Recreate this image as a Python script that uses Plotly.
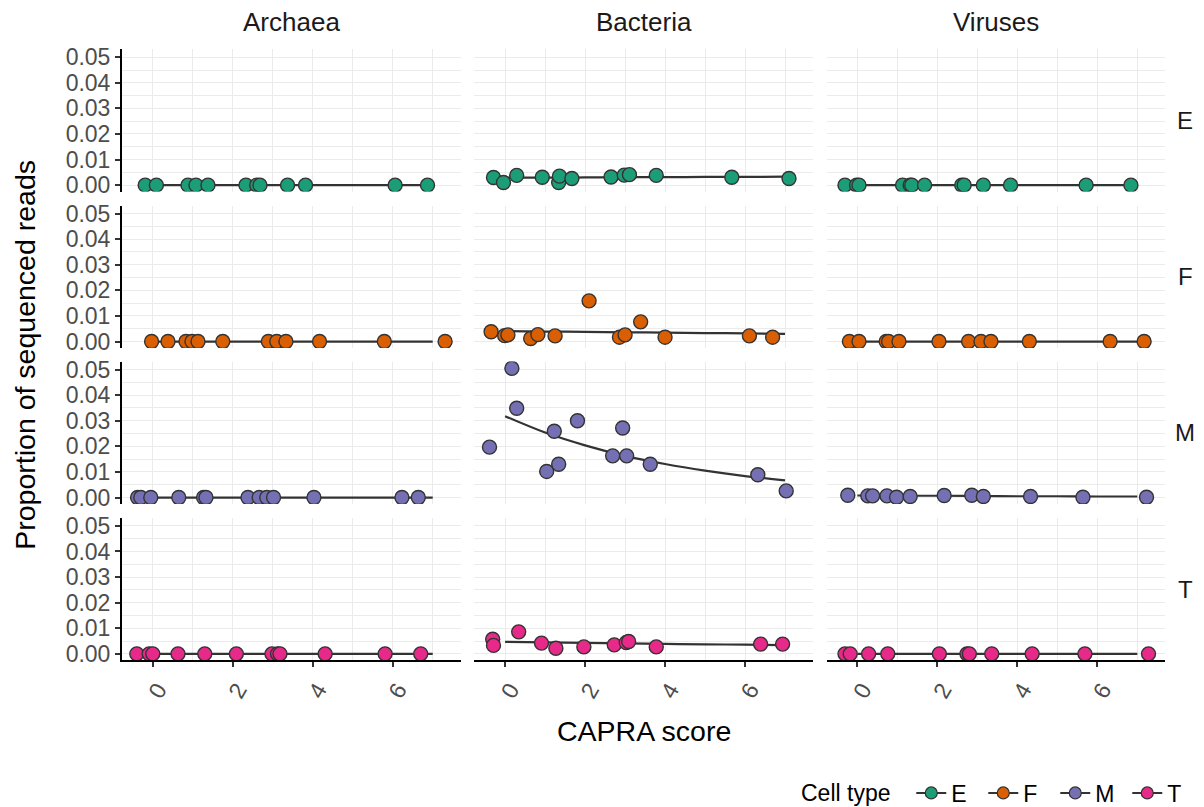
import plotly.graph_objects as go

# ---------------- data ----------------
kingdoms = ["Archaea", "Bacteria", "Viruses"]
cell_types = ["E", "F", "M", "T"]
type_colors = ["#1B9E77", "#D95F02", "#7570B3", "#E7298A"]
x_ticks = [0, 2, 4, 6]
y_ticks = [0.00, 0.01, 0.02, 0.03, 0.04, 0.05]

# jittered sample points (CAPRA score, proportion of reads)
archaea_E_x = [-0.19, 0.09, 0.88, 1.08, 1.38, 2.33, 2.60, 2.68, 3.37, 3.82, 6.06, 6.87]
archaea_E_y = [0, 0, 0, 0, 0, 0, 0, 0, 0, 0, 0, 0]
archaea_F_x = [-0.03, 0.38, 0.83, 0.98, 1.13, 1.75, 2.89, 3.10, 3.33, 4.17, 5.79, 7.31]
archaea_F_y = [0, 0, 0, 0, 0, 0, 0, 0, 0, 0, 0, 0]
archaea_M_x = [-0.38, -0.30, -0.05, 0.65, 1.27, 1.33, 2.38, 2.66, 2.85, 3.02, 4.03, 6.23, 6.64]
archaea_M_y = [0, 0, 0, 0, 0, 0, 0, 0, 0, 0, 0, 0, 0]
archaea_T_x = [-0.40, -0.09, 0.00, 0.63, 1.30, 2.09, 2.98, 3.12, 3.18, 4.31, 5.81, 6.70]
archaea_T_y = [0, 0, 0, 0, 0, 0, 0, 0, 0, 0, 0, 0]

bacteria_E_x = [-0.29, -0.04, 0.29, 0.93, 1.34, 1.36, 1.67, 2.65, 2.98, 3.11, 3.78, 5.67, 7.10]
bacteria_E_y = [0.0030, 0.0010, 0.0038, 0.0031, 0.0010, 0.0035, 0.0026, 0.0032, 0.0039, 0.0041, 0.0038, 0.0031, 0.0026]
bacteria_F_x = [-0.35, -0.01, 0.07, 0.64, 0.82, 1.25, 2.10, 2.86, 3.00, 3.39, 4.00, 6.11, 6.69]
bacteria_F_y = [0.0038, 0.0023, 0.0026, 0.0012, 0.0027, 0.0022, 0.0159, 0.0017, 0.0026, 0.0077, 0.0017, 0.0022, 0.0017]
bacteria_M_x = [-0.39, 0.17, 0.29, 1.04, 1.23, 1.34, 1.81, 2.69, 2.94, 3.04, 3.63, 6.32, 7.03]
bacteria_M_y = [0.0197, 0.0505, 0.0349, 0.0102, 0.0259, 0.0130, 0.0300, 0.0163, 0.0272, 0.0163, 0.0130, 0.0089, 0.0026]
bacteria_T_x = [-0.31, -0.29, 0.34, 0.91, 1.27, 1.97, 2.73, 3.03, 3.09, 3.78, 6.39, 6.94]
bacteria_T_y = [0.0057, 0.0033, 0.0086, 0.0042, 0.0022, 0.0027, 0.0035, 0.0044, 0.0048, 0.0027, 0.0038, 0.0038]

viruses_E_x = [-0.31, -0.02, 0.04, 1.13, 1.32, 1.36, 1.68, 2.61, 2.67, 3.15, 3.83, 5.72, 6.84]
viruses_E_y = [0, 0, 0, 0, 0, 0, 0, 0, 0, 0, 0, 0, 0]
viruses_F_x = [-0.20, 0.04, 0.72, 0.78, 1.04, 2.04, 2.78, 3.09, 3.34, 4.30, 6.32, 7.17]
viruses_F_y = [0, 0, 0, 0, 0, 0, 0, 0, 0, 0, 0, 0]
viruses_M_x = [-0.24, 0.26, 0.38, 0.74, 0.98, 1.32, 2.17, 2.86, 3.15, 4.33, 5.64, 7.23]
viruses_M_y = [0.0009, 0.00065, 0.00065, 0.00065, 0.00013, 0.0004, 0.0008, 0.0009, 0.0004, 0.0004, 0.00013, 0.00013]
viruses_T_x = [-0.31, -0.18, 0.28, 0.76, 2.05, 2.74, 2.80, 3.36, 4.37, 5.69, 7.28]
viruses_T_y = [0, 0, 0, 0, 0, 0, 0, 0, 0, 0, 0]

# fitted trend lines, evaluated at integer CAPRA scores
fit_x = [0, 1, 2, 3, 4, 5, 6, 7]
fit_archaea_E = [0, 0, 0, 0, 0, 0, 0, 0]
fit_archaea_F = [0, 0, 0, 0, 0, 0, 0, 0]
fit_archaea_M = [0, 0, 0, 0, 0, 0, 0, 0]
fit_archaea_T = [0, 0, 0, 0, 0, 0, 0, 0]
fit_bacteria_E = [0.0029, 0.0029, 0.0030, 0.0031, 0.0031, 0.0032, 0.0032, 0.0033]
fit_bacteria_F = [0.0041, 0.0039, 0.0038, 0.0036, 0.0035, 0.0033, 0.0032, 0.0030]
fit_bacteria_M = [0.0318, 0.0254, 0.0204, 0.0163, 0.0131, 0.0105, 0.0084, 0.0067]
fit_bacteria_T = [0.0047, 0.0045, 0.0043, 0.0041, 0.0039, 0.0037, 0.0036, 0.0034]
fit_viruses_E = [0, 0, 0, 0, 0, 0, 0, 0]
fit_viruses_F = [0, 0, 0, 0, 0, 0, 0, 0]
fit_viruses_M = [0.0008, 0.0007, 0.0007, 0.0006, 0.0005, 0.0005, 0.0004, 0.0004]
fit_viruses_T = [0, 0, 0, 0, 0, 0, 0, 0]

points = {
    ("Archaea", "E"): (archaea_E_x, archaea_E_y), ("Archaea", "F"): (archaea_F_x, archaea_F_y),
    ("Archaea", "M"): (archaea_M_x, archaea_M_y), ("Archaea", "T"): (archaea_T_x, archaea_T_y),
    ("Bacteria", "E"): (bacteria_E_x, bacteria_E_y), ("Bacteria", "F"): (bacteria_F_x, bacteria_F_y),
    ("Bacteria", "M"): (bacteria_M_x, bacteria_M_y), ("Bacteria", "T"): (bacteria_T_x, bacteria_T_y),
    ("Viruses", "E"): (viruses_E_x, viruses_E_y), ("Viruses", "F"): (viruses_F_x, viruses_F_y),
    ("Viruses", "M"): (viruses_M_x, viruses_M_y), ("Viruses", "T"): (viruses_T_x, viruses_T_y),
}
fits = {
    ("Archaea", "E"): fit_archaea_E, ("Archaea", "F"): fit_archaea_F,
    ("Archaea", "M"): fit_archaea_M, ("Archaea", "T"): fit_archaea_T,
    ("Bacteria", "E"): fit_bacteria_E, ("Bacteria", "F"): fit_bacteria_F,
    ("Bacteria", "M"): fit_bacteria_M, ("Bacteria", "T"): fit_bacteria_T,
    ("Viruses", "E"): fit_viruses_E, ("Viruses", "F"): fit_viruses_F,
    ("Viruses", "M"): fit_viruses_M, ("Viruses", "T"): fit_viruses_T,
}

# ---------------- layout geometry ----------------
# the page body has an 8px margin; the figure starts at (8, 8) in the window
OFF = 8
W, H = 1204 - 2 * OFF, 807 - OFF


def px_x(X):
    return (X - OFF) / W


def px_y(Y):
    return 1 - (Y - OFF) / H


col_px = [(122.0, 460.7), (474.3, 813.0), (826.6, 1165.3)]
row_px = [(49.2, 191.6), (205.6, 348.0), (361.6, 504.0), (517.9, 660.3)]
x_range = [-0.77, 7.7]
y_range = [-0.00253, 0.05313]

FONT = "Liberation Sans, Arial, Helvetica, sans-serif"
GRID = "#EBEBEB"
LINE_COL = "#333333"

fig = go.Figure()
layout = dict()

for r, ct in enumerate(cell_types):
    for c, kd in enumerate(kingdoms):
        k = r * 3 + c + 1
        xa = "x" if k == 1 else f"x{k}"
        ya = "y" if k == 1 else f"y{k}"
        xname = "xaxis" if k == 1 else f"xaxis{k}"
        yname = "yaxis" if k == 1 else f"yaxis{k}"
        bottom = r == len(cell_types) - 1
        left = c == 0
        x0, x1 = col_px[c]
        t0, t1 = row_px[r]
        layout[xname] = dict(
            domain=[px_x(x0), px_x(x1)], range=x_range, anchor=ya,
            tickvals=x_ticks, showgrid=True, gridcolor=GRID, gridwidth=1.4,
            minor=dict(dtick=1, tick0=0, showgrid=True, gridcolor=GRID, gridwidth=0.8),
            zeroline=False, showline=bottom, linecolor="black", linewidth=2,
            ticks="outside" if bottom else "", ticklen=5, tickwidth=2, tickcolor="#333333",
            showticklabels=bottom, tickangle=-60, ticklabelshift=5,
            tickfont=dict(family=FONT, size=23, color="#4D4D4D"),
        )
        layout[yname] = dict(
            domain=[px_y(t1), px_y(t0)], range=y_range, anchor=xa,
            tickvals=y_ticks, tickformat=".2f", showgrid=True, gridcolor=GRID, gridwidth=1.4,
            minor=dict(dtick=0.005, tick0=0, showgrid=True, gridcolor=GRID, gridwidth=0.8),
            zeroline=False, showline=left, linecolor="black", linewidth=2,
            ticks="outside" if left else "", ticklen=5, tickwidth=2, tickcolor="#333333",
            showticklabels=left,
            tickfont=dict(family=FONT, size=23, color="#4D4D4D"),
        )
        fig.add_trace(go.Scatter(
            x=fit_x, y=fits[(kd, ct)], mode="lines", xaxis=xa, yaxis=ya,
            line=dict(color=LINE_COL, width=2.2, shape="spline"),
            showlegend=False, hoverinfo="skip",
        ))
        px_, py_ = points[(kd, ct)]
        fig.add_trace(go.Scatter(
            x=px_, y=py_, mode="markers", xaxis=xa, yaxis=ya,
            marker=dict(size=14, color=type_colors[r], line=dict(color=LINE_COL, width=1.4)),
            showlegend=False, name=ct,
        ))

# legend entries (line + point glyph, like ggplot)
for ct, col in zip(cell_types, type_colors):
    fig.add_trace(go.Scatter(
        x=[None], y=[None], mode="lines+markers", name=ct,
        line=dict(color=LINE_COL, width=2),
        marker=dict(size=12, color=col, line=dict(color=LINE_COL, width=1.2)),
        showlegend=True,
    ))

annotations = []
for c, kd in enumerate(kingdoms):
    x0, x1 = col_px[c]
    annotations.append(dict(
        text=kd, x=px_x((x0 + x1) / 2), y=px_y(22), xref="paper", yref="paper",
        showarrow=False, xanchor="center", yanchor="middle",
        font=dict(family=FONT, size=26, color="#1A1A1A"),
    ))
for r, ct in enumerate(cell_types):
    t0, t1 = row_px[r]
    annotations.append(dict(
        text=ct, x=px_x(1185), y=px_y((t0 + t1) / 2), xref="paper", yref="paper",
        showarrow=False, xanchor="center", yanchor="middle",
        font=dict(family=FONT, size=24, color="#1A1A1A"),
    ))
annotations.append(dict(
    text="CAPRA score", x=px_x((col_px[0][0] + col_px[2][1]) / 2), y=px_y(731),
    xref="paper", yref="paper", showarrow=False, xanchor="center", yanchor="middle",
    font=dict(family=FONT, size=28.5, color="black"),
))
annotations.append(dict(
    text="Proportion of sequenced reads", x=px_x(25), y=px_y((row_px[0][0] + row_px[3][1]) / 2),
    xref="paper", yref="paper", showarrow=False, xanchor="center", yanchor="middle",
    textangle=-90, font=dict(family=FONT, size=28.5, color="black"),
))

fig.update_layout(
    **layout,
    width=W, height=H,
    margin=dict(l=0, r=0, t=0, b=0, autoexpand=False),
    paper_bgcolor="white", plot_bgcolor="white",
    annotations=annotations,
    showlegend=True,
    legend=dict(
        orientation="h", x=px_x(1200), xanchor="right", y=px_y(793), yanchor="middle",
        title=dict(text="Cell type\u00a0\u00a0", side="left",
                   font=dict(family=FONT, size=23, color="black")),
        font=dict(family=FONT, size=23, color="black"),
        entrywidth=27, entrywidthmode="pixels",
        itemwidth=30, bgcolor="rgba(0,0,0,0)",
    ),
)

fig.write_html("out.html")
